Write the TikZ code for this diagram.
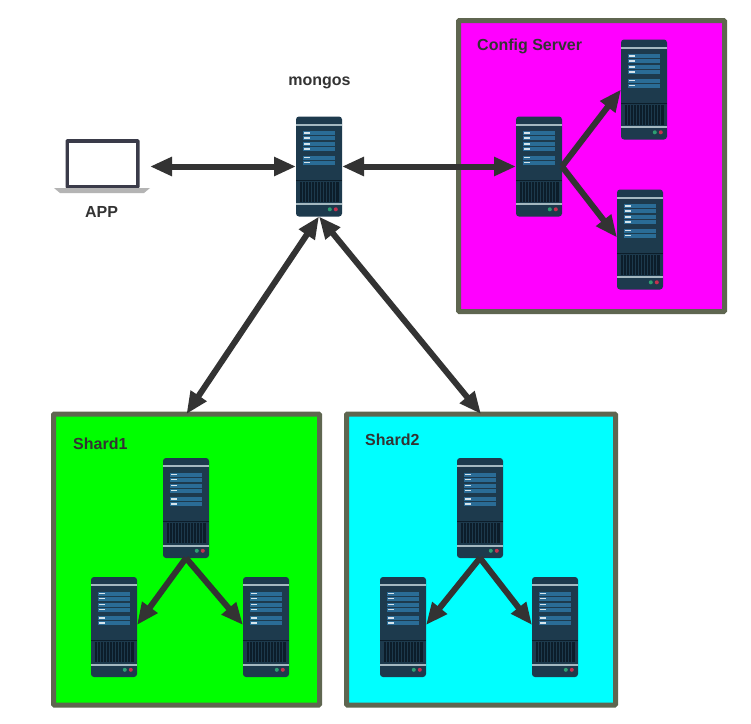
\documentclass[tikz,border=0pt]{standalone}
\usepackage{fontspec}
\setmainfont{Liberation Sans}
\usetikzlibrary{arrows.meta}
\definecolor{serverblue}{HTML}{1D3A4D}
\definecolor{barblue}{HTML}{2A6C96}
\definecolor{ticklight}{HTML}{D5E4EC}
\definecolor{ventdark}{HTML}{0C1D2A}
\definecolor{rimgrey}{HTML}{A4B8C0}
\definecolor{ledgreen}{HTML}{2E9E72}
\definecolor{ledred}{HTML}{C4304F}
\definecolor{boxedge}{HTML}{5F6650}
\definecolor{textdark}{HTML}{333333}
\definecolor{lidgrey}{HTML}{3A3B49}
\definecolor{basegrey}{HTML}{B4B4B4}
\definecolor{configpink}{HTML}{FF00FF}
\definecolor{shardgreen}{HTML}{00FF00}
\definecolor{shardcyan}{HTML}{00FFFF}
\tikzset{
	server/.style={minimum width=46pt, minimum height=100pt, inner sep=0pt, outer sep=0pt, rounded corners=3pt, fill=serverblue,
		path picture={
			\begin{scope}[sharp corners]
			\fill[rimgrey] (-23,-42.8) rectangle (23,-40.7);
			\foreach \rowy in {-35.5,-30.5,-24.5,-19.5,-11,-6} {
				\fill[barblue] (-16,\rowy) rectangle (16,\rowy+4);
				\fill[ticklight] (-15,\rowy+1.3) rectangle (-9,\rowy+2.7);
			}
			\fill[ventdark] (-23,13) rectangle (23,14);
			\fill[ventdark] (-19.5,15) rectangle (19.5,35);
			\foreach \ventx in {-17,-14,...,18} {
				\draw[serverblue, line width=0.6pt] (\ventx,15) -- (\ventx,35);
			}
			\fill[rimgrey] (-23,36.5) rectangle (23,38.6);
			\fill[ledgreen] (10.8,42.8) circle (2);
			\fill[ledred] (16.8,42.8) circle (2);
			\end{scope}
		}},
	laptop/.style={minimum width=96pt, minimum height=54pt, inner sep=0pt, outer sep=0pt,
		path picture={
			\fill[lidgrey, rounded corners=1.5pt] (-36.5,-27.5) rectangle (37.5,22);
			\fill[white] (-32.8,-24) rectangle (34,18.5);
			\fill[basegrey] (-48,21.5) -- (48,21.5) -- (42,26.5) -- (-42,26.5) -- cycle;
		}},
	shardbox/.style={draw=boxedge, line width=5pt, inner sep=0pt, outer sep=0pt, rounded corners=1pt},
	caption/.style={font=\fontsize{16}{18}\selectfont\bfseries, text=textdark, inner sep=0pt},
	link/.style={line width=6pt, draw=textdark, >={Triangle[length=22pt, width=18pt]}}
}
\begin{document}
\begin{tikzpicture}[x=1pt, y=-1pt]
	\useasboundingbox[fill=white] (0,0) rectangle (751,723);
	% coloured boxes
	\node[shardbox, fill=configpink, minimum width=266pt, minimum height=291pt] (configbox) at (591.5,166) {};
	\node[shardbox, fill=shardgreen, minimum width=266pt, minimum height=291pt] (shardAbox) at (186.5,559.5) {};
	\node[shardbox, fill=shardcyan, minimum width=269pt, minimum height=291pt] (shardBbox) at (481,559.5) {};
	% labels
	\node[caption, anchor=west] (configlabel) at (477,46) {Config Server};
	\node[caption, anchor=west] (shardAlabel) at (73,444) {Shard1};
	\node[caption, anchor=west] (shardBlabel) at (365,440) {Shard2};
	\node[caption] (mongoslabel) at (319.5,83) {mongos};
	\node[caption] (applabel) at (101.5,212) {APP};
	% machines
	\node[laptop] (app) at (102,166.5) {};
	\node[server] (mongos) at (319,166.5) {};
	\node[server] (configmain) at (539,166.5) {};
	\node[server] (configtop) at (644,89.5) {};
	\node[server] (configlow) at (640,239.5) {};
	\node[server] (shardAtop) at (186,508) {};
	\node[server] (shardAleft) at (114,627) {};
	\node[server] (shardAright) at (266,627) {};
	\node[server] (shardBtop) at (480,508) {};
	\node[server] (shardBleft) at (403,627) {};
	\node[server] (shardBright) at (555,627) {};
	% arrows
	\draw[link, <->] (app.east) -- (mongos.west);
	\draw[link, <->] (mongos.east) -- (configmain.west);
	\draw[link, ->] (configmain.east) -- (configtop.west);
	\draw[link, ->] (configmain.east) -- ([yshift=2pt]configlow.west);
	\draw[link, <->] (mongos.south) -- (shardAbox.north);
	\draw[link, <->] (mongos.south) -- (shardBbox.north);
	\draw[link, ->] (shardAtop.south) -- ([yshift=2pt]shardAleft.east);
	\draw[link, ->] (shardAtop.south) -- ([yshift=2pt]shardAright.west);
	\draw[link, ->] (shardBtop.south) -- ([yshift=2pt]shardBleft.east);
	\draw[link, ->] (shardBtop.south) -- ([yshift=2pt]shardBright.west);
\end{tikzpicture}
\end{document}
